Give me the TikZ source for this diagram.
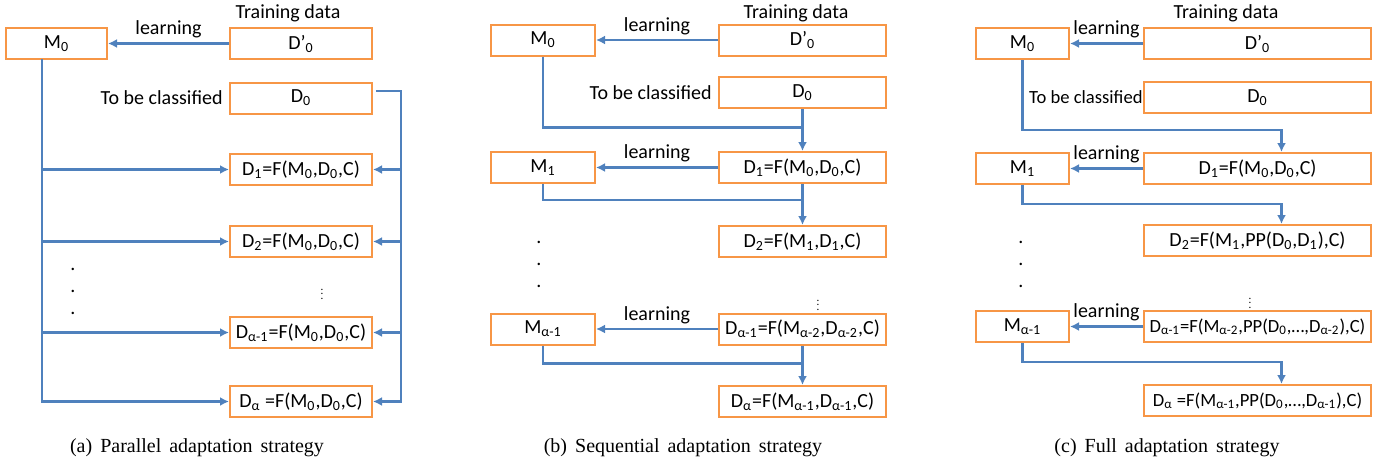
\documentclass[tikz,border=0pt]{standalone}
\usepackage{fontspec}
\setmainfont{Carlito}
\newfontfamily\capfont[WordSpace=1.6]{Liberation Serif}
\usetikzlibrary{arrows.meta, positioning}
\newcommand{\lo}[1]{\textsubscript{#1}}
\definecolor{boxorange}{HTML}{F79646}
\definecolor{flowblue}{HTML}{4F81BD}

\begin{document}
\begin{tikzpicture}[x=0.5pt, y=-0.5pt,
  every node/.style = {font=\fontsize{10}{12}\selectfont},
  box/.style = {draw=boxorange, line width=1pt, minimum height=15.5pt, inner sep=1pt, align=center},
  small/.style = {font=\fontsize{9.3}{11}\selectfont},
  line/.style = {flowblue, line width=1.4pt},
  arr/.style = {line, -{Latex[length=4.5pt, width=4.5pt]}},
  tag/.style = {inner sep=2pt, text=black},
  dot/.style = {inner sep=0pt},
  vdot/.style = {inner sep=0pt},
  caption/.style = {font=\capfont\fontsize{10}{12}\selectfont}
]
\useasboundingbox (0,0) rectangle (1388,466);

% (a) Parallel adaptation strategy
\node[box, minimum width=50.5pt] (aM0) at (56.5,43.5) {M\lo{0}};
\node[box, minimum width=71pt] (aDp) at (301,43.5) {D’\lo{0}};
\node[box, minimum width=71pt] (aD0) at (301,98) {D\lo{0}};
\node[box, minimum width=71pt] (aD1) at (301,169.5) {D\lo{1}=F(M\lo{0},D\lo{0},C)};
\node[box, minimum width=71pt] (aD2) at (301,241.5) {D\lo{2}=F(M\lo{0},D\lo{0},C)};
\node[box, minimum width=71pt] (aDam) at (301,332.5) {D\lo{α-1}=F(M\lo{0},D\lo{0},C)};
\node[box, minimum width=71pt] (aDa) at (301,401.5) {D\lo{α} =F(M\lo{0},D\lo{0},C)};
\node[tag] (atrain) at (288,13) {Training data};
\node[tag, left=1pt of aD0] (aclass) {To be classified};
\foreach \y in {269,291,313} \node[dot] (adot\y) at (73,\y) {.};
\node[vdot] (avd) at (322,291) {\scalebox{0.55}{$\vdots$}};
\node[caption] (acap) at (197,448) {(a) Parallel adaptation strategy};

\coordinate (als) at (42,59);
\coordinate (ars) at (401,401.5);
\draw[arr] (aDp.west) -- node[tag, above]{learning} (aM0.east);
\draw[arr] (als) |- (aDa.west);
\draw[arr] ([shift={(1.5pt,3.5pt)}]aD0.east) -| (ars) -- (aDa.east);
\foreach \n in {aD1, aD2, aDam} {
  \draw[arr] (als |- \n.west) -- (\n.west);
  \draw[arr] (ars |- \n.east) -- (\n.east);
}

% (b) Sequential adaptation strategy
\node[box, minimum width=52pt] (bM0) at (543,40) {M\lo{0}};
\node[box, minimum width=83.5pt] (bDp) at (802.5,40) {D’\lo{0}};
\node[box, minimum width=83.5pt] (bD0) at (802.5,92.5) {D\lo{0}};
\node[box, minimum width=52pt] (bM1) at (543,167.5) {M\lo{1}};
\node[box, minimum width=83.5pt] (bD1) at (802.5,167.5) {D\lo{1}=F(M\lo{0},D\lo{0},C)};
\node[box, minimum width=83.5pt] (bD2) at (802.5,241.5) {D\lo{2}=F(M\lo{1},D\lo{1},C)};
\node[box, minimum width=52pt] (bMam) at (543,329) {M\lo{α-1}};
\node[box, minimum width=83.5pt] (bDam) at (802.5,329) {D\lo{α-1}=F(M\lo{α-2},D\lo{α-2},C)};
\node[box, minimum width=83.5pt] (bDa) at (802.5,401.5) {D\lo{α}=F(M\lo{α-1},D\lo{α-1},C)};
\node[tag] (btrain) at (796,13) {Training data};
\node[tag, left=1pt of bD0] (bclass) {To be classified};
\foreach \y in {242,264,286} \node[dot] (bdot\y) at (539,\y) {.};
\node[vdot] (bvd) at (818,302) {\scalebox{0.55}{$\vdots$}};
\node[caption] (bcap) at (683,448) {(b) Sequential adaptation strategy};

\draw[arr] (bDp.west) -- node[tag, above]{learning} (bM0.east);
\draw[arr] (bD1.west) -- node[tag, above]{learning} (bM1.east);
\draw[arr] (bDam.west) -- node[tag, above]{learning} (bMam.east);
\draw[arr] (bM0.south) -- ++(0,71) -| (bD1.north);
\draw[line] (bD0.south) -- ++(0,19);
\draw[arr] (bM1.south) -- ++(0,16) -| (bD2.north);
\draw[line] (bD1.south) -- ++(0,16);
\draw[arr] (bMam.south) -- ++(0,18) -| (bDa.north);
\draw[line] (bDam.south) -- ++(0,19);

% (c) Full adaptation strategy
\node[box, minimum width=46.5pt] (cM0) at (1022.5,43.5) {M\lo{0}};
\node[box, minimum width=113.5pt] (cDp) at (1257.5,43.5) {D’\lo{0}};
\node[box, minimum width=113.5pt] (cD0) at (1257.5,97.5) {D\lo{0}};
\node[box, minimum width=46.5pt] (cM1) at (1022.5,168.5) {M\lo{1}};
\node[box, minimum width=113.5pt] (cD1) at (1257.5,168.5) {D\lo{1}=F(M\lo{0},D\lo{0},C)};
\node[box, minimum width=113.5pt] (cD2) at (1257.5,240.5) {D\lo{2}=F(M\lo{1},PP(D\lo{0},D\lo{1}),C)};
\node[box, minimum width=46.5pt] (cMam) at (1022.5,326.5) {M\lo{α-1}};
\node[box, small, minimum width=113.5pt] (cDam) at (1257.5,326.5) {D\lo{α-1}=F(M\lo{α-2},PP(D\lo{0},…,D\lo{α-2}),C)};
\node[box, small, minimum width=113.5pt] (cDa) at (1257.5,400.5) {D\lo{α} =F(M\lo{α-1},PP(D\lo{0},…,D\lo{α-1}),C)};
\node[tag] (ctrain) at (1226,13) {Training data};
\node[tag, small, left=-2pt of cD0] (cclass) {To be classified};
\foreach \y in {242,264,286} \node[dot] (cdot\y) at (1021,\y) {.};
\node[vdot] (cvd) at (1250,300) {\scalebox{0.55}{$\vdots$}};
\node[caption] (ccap) at (1167,448) {(c) Full adaptation strategy};

\draw[arr] (cDp.west) -- node[tag, above]{learning} (cM0.east);
\draw[arr] (cD1.west) -- node[tag, above]{learning} (cM1.east);
\draw[arr] (cDam.west) -- node[tag, above]{learning} (cMam.east);
\draw[arr] (cM0.south) -- ++(0,70) -| ([xshift=12pt]cD1.north);
\draw[arr] (cM1.south) -- ++(0,19) -| ([xshift=12pt]cD2.north);
\draw[arr] (cMam.south) -- ++(0,19) -| ([xshift=12pt]cDa.north);

\end{tikzpicture}
\end{document}
